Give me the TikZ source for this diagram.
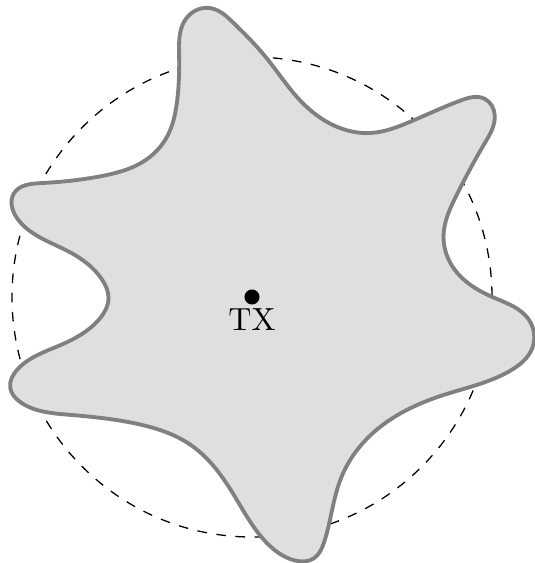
\documentclass[tikz,border=0pt]{standalone}
\usetikzlibrary{positioning,hobby}
\tikzset{
  coverage/.style={draw=gray, line width=1.2pt, fill=gray!25},
  rangering/.style={draw=black, dashed, line width=0.4pt},
  txdot/.style={circle, fill=black, inner sep=0pt, minimum size=4.7pt},
  txlabel/.style={inner sep=0.5pt}
}
\begin{document}
\begin{tikzpicture}[x=0.3125pt,y=-0.3125pt]
  \useasboundingbox (0,0) rectangle (535,563);
  % nominal range
  \draw[rangering] (252,297) circle[radius=240];
  % irregular coverage area
  \draw[coverage, use Hobby shortcut, closed=true]
    (204.7,7.9) .. (184.2,21.5) .. (179.1,53.9) .. (176.7,104.1) .. (167.2,136.4) ..
    (143.3,161.6) .. (102.4,175.9) .. (40.9,183.1) .. (13.6,193.9) .. (11.9,206.5) ..
    (20.5,222.6) .. (68.2,251.3) .. (102.4,280.1) .. (108.5,298) .. (98.9,319.6) ..
    (61.4,344.7) .. (17.1,369.8) .. (10.2,387.8) .. (20.5,402.2) .. (68.2,414.7) ..
    (136.5,423.7) .. (191.1,445.2) .. (232,491.9) .. (266.1,542.2) .. (293.4,560.1) ..
    (313.9,558.3) .. (324.1,542.2) .. (341.2,477.6) .. (375.3,430.9) .. (443.5,395) ..
    (511.8,369.8) .. (532.2,348.3) .. (528.8,319.6) .. (494.7,298) .. (457.2,272.9) ..
    (443.5,237) .. (457.2,193.9) .. (484.5,143.6) .. (494.7,114.9) .. (484.5,98.7) ..
    (460.6,100.5) .. (409.4,122.1) .. (371.9,132.9) .. (334.4,125.7) .. (300.2,100.5) ..
    (266.1,57.5) .. (232,21.5) .. (218.4,10.8);
  % transmitter
  \node[txdot] (tx) at (252,297) {};
  \node[txlabel, below=0.5pt of tx] (txl) {TX};
\end{tikzpicture}
\end{document}
